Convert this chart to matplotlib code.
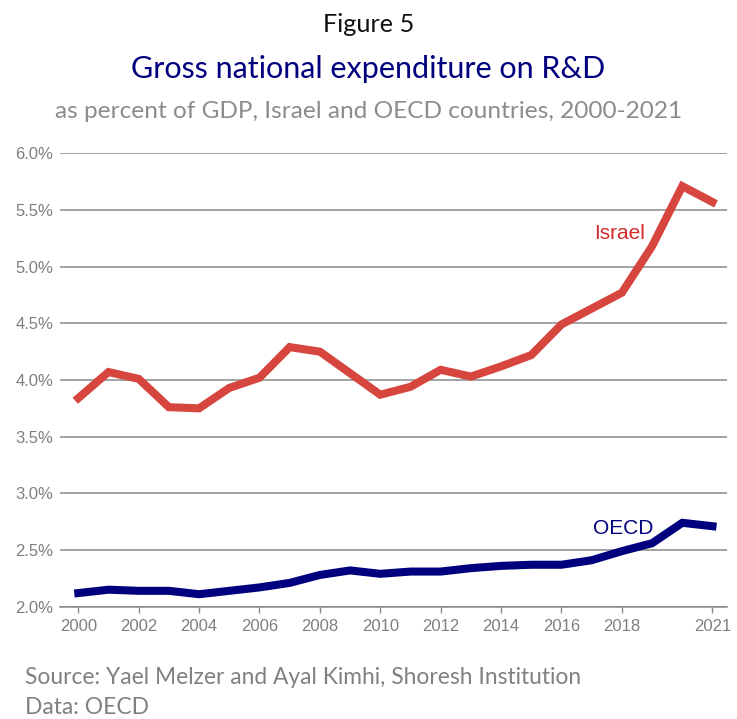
import matplotlib.pyplot as plt
from matplotlib.ticker import FuncFormatter

# R&D expenditure as % of GDP
years = list(range(2000, 2022))
israel = [3.84, 4.07, 4.01, 3.76, 3.75, 3.93, 4.02, 4.29, 4.25, 4.06, 3.87,
          3.94, 4.09, 4.03, 4.12, 4.22, 4.49, 4.63, 4.77, 5.18, 5.71, 5.57]
oecd = [2.12, 2.15, 2.14, 2.14, 2.11, 2.14, 2.17, 2.21, 2.28, 2.32, 2.29,
        2.31, 2.31, 2.34, 2.36, 2.37, 2.37, 2.41, 2.49, 2.56, 2.74, 2.71]
xticks = [2000, 2002, 2004, 2006, 2008, 2010, 2012, 2014, 2016, 2018, 2021]
yticks = [2.0, 2.5, 3.0, 3.5, 4.0, 4.5, 5.0, 5.5, 6.0]

RED = "#d6463f"
NAVY = "#00007f"
GRID = "#8a8a8a"
LABEL = "#7f7f7f"

fig = plt.figure(figsize=(7.37, 7.19), dpi=100)
ax = fig.add_axes([0.0814, 0.1562, 0.905, 0.6306])

ax.plot(years, israel, color=RED, lw=5.8, solid_joinstyle="miter", zorder=3)
ax.plot(years, oecd, color=NAVY, lw=5.8, solid_joinstyle="miter", zorder=3)

ax.set_xlim(1999.394, 2021.48)
ax.set_ylim(2.0, 6.0)
ax.set_xticks(xticks)
ax.set_yticks(yticks)
ax.yaxis.set_major_formatter(FuncFormatter(lambda v, p: f"{v:.1f}%"))

ax.grid(axis="y", color=GRID, lw=1.1, zorder=1)
ax.set_axisbelow(True)
for side in ["top", "right", "left"]:
    ax.spines[side].set_visible(False)
ax.spines["bottom"].set_color(GRID)
ax.spines["bottom"].set_linewidth(1.1)

ax.tick_params(axis="y", length=0, pad=5, labelsize=12, labelcolor=LABEL)
ax.tick_params(axis="x", length=4, width=1, color=GRID, pad=5,
               labelsize=12, labelcolor=LABEL)
for lbl in ax.get_xticklabels() + ax.get_yticklabels():
    lbl.set_fontfamily("Liberation Sans")

# series labels
ax.text(2018.77, 5.29, "Israel", color="#d42a2a", fontsize=15,
        family="Liberation Sans", ha="right", va="center")
ax.text(2019.05, 2.69, "OECD", color=NAVY, fontsize=15,
        family="Liberation Sans", ha="right", va="center")

# headings
fig.text(0.5, 1 - 24 / 719, "Figure 5", ha="center", va="center",
         fontsize=18.2, family="Lato", color="#111111")
fig.text(0.5, 1 - 69 / 719, "Gross national expenditure on R&D", ha="center",
         va="center", fontsize=22, family="Lato", color=NAVY)
fig.text(0.5, 1 - 111 / 719, "as percent of GDP, Israel and OECD countries, 2000-2021",
         ha="center", va="center", fontsize=17.6, family="Lato", color="#8c8c8c")

# footer
fig.text(25 / 737, 1 - 677 / 719, "Source: Yael Melzer and Ayal Kimhi, Shoresh Institution",
         ha="left", va="center", fontsize=16.4, family="Lato", color="#808080")
fig.text(25 / 737, 1 - 707 / 719, "Data: OECD",
         ha="left", va="center", fontsize=16.4, family="Lato", color="#808080")

fig.savefig("out.png", dpi=100, facecolor="white")
